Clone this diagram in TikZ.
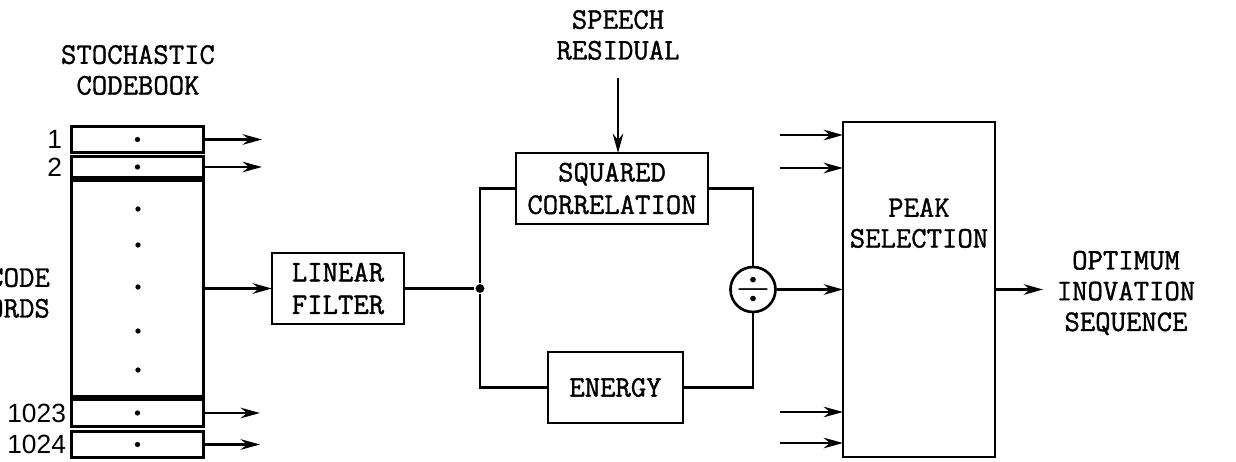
\documentclass[tikz,border=0pt]{standalone}
\usepackage{fontspec}
\setmainfont{Liberation Sans}
\setmonofont{Latin Modern Mono}[AutoFakeBold=1.2]
\usetikzlibrary{arrows.meta,positioning,calc}

\begin{document}
\begin{tikzpicture}[
    x=0.02cm, y=-0.02cm,
    line width=1.5pt,
    box/.style={rectangle, draw, inner sep=0pt, outer sep=0pt, align=center, font=\ttfamily\bfseries\fontsize{17}{18.5}\selectfont},
    row/.style={rectangle, draw, minimum width=2.65cm, inner sep=0pt, outer sep=0pt},
    lbl/.style={align=center, font=\ttfamily\bfseries\fontsize{17}{17.5}\selectfont},
    num/.style={anchor=east, inner sep=0pt, font=\fontsize{15}{17}\selectfont},
    arrow/.style={-{Stealth[length=11pt,width=6pt]}},
    pt/.style={circle, fill, inner sep=0pt, minimum size=3pt}
]
\useasboundingbox (0,0) rectangle (1236,462);

% codebook
\node[lbl] (cbtitle) at (138,70) {STOCHASTIC\\CODEBOOK};
\node[row, minimum height=0.53cm] (row1) at (137.5,139.5) {};
\node[row, minimum height=0.43cm] (row2) at (137.5,167) {};
\node[row, minimum height=4.33cm] (mid) at (137.5,288.5) {};
\node[row, minimum height=0.55cm] (row1023) at (137.5,413) {};
\node[row, minimum height=0.53cm] (row1024) at (137.5,444.5) {};
\foreach \r in {row1,row2,row1023,row1024}
  \node[pt] (dot\r) at (\r) {};
\foreach \y in {209,245,287,331,370}
  \node[pt] (dot\y) at (138,\y) {};

\node[num] (n1) at ([xshift=-0.16cm]row1.west) {1};
\node[num] (n2) at ([xshift=-0.16cm]row2.west) {2};
\node[num] (n1023) at ([xshift=-0.08cm]row1023.west) {1023};
\node[num] (n1024) at ([xshift=-0.08cm]row1024.west) {1024};
\node[lbl, anchor=east, align=right] (words) at (57,293) {CODE\\WORDS};

\coordinate (o1) at (262,139);
\coordinate (o2) at (262,167);
\coordinate (o1023) at (260,413);
\coordinate (o1024) at (260,445);
\draw[arrow] (row1.east) -- (row1.east -| o1);
\draw[arrow] (row2.east) -- (row2.east -| o2);
\draw[arrow] (row1023.east) -- (row1023.east -| o1023);
\draw[arrow] (row1024.east) -- (row1024.east -| o1024);

% filter and the two branches
\node[box, minimum width=2.64cm, minimum height=1.42cm] (filt) at (338,288.5) {LINEAR\\FILTER};
\draw[arrow] (mid.east) -- (filt.west);
\node[box, minimum width=3.84cm, minimum height=1.42cm] (sq) at (612,188.5) {SQUARED\\CORRELATION};
\node[box, minimum width=2.7cm, minimum height=1.42cm] (en) at (615.5,387.5) {ENERGY};
\node[pt, minimum size=5pt] (jn) at (480,288.5) {};
\draw (filt.east) -- (jn);
\draw (jn) |- (sq.west);
\draw (jn) |- (en.west);

\node[lbl] (resid) at (618,35) {SPEECH\\RESIDUAL};
\coordinate (rtop) at (618,78);
\draw[arrow] (rtop) -- (rtop |- sq.north);

% divider
\node[circle, draw, minimum size=0.9cm, inner sep=0pt, font=\fontsize{24}{24}\selectfont] (div) at (753,289.5) {$\div$};
\draw (sq.east) -| (div.north);
\draw (en.east) -| (div.south);

% peak selection
\node[rectangle, draw, outer sep=0pt, minimum width=3.04cm, minimum height=6.7cm] (peak) at (919,289.5) {};
\node[lbl] (peaktxt) at (919,223) {PEAK\\SELECTION};
\draw[arrow] (div.east) -- (div.east -| peak.west);
\foreach \y [count=\i] in {135,168,412,443} {
  \coordinate (in\i) at (780,\y);
  \draw[arrow] (in\i) -- (in\i -| peak.west);
}

\coordinate (outend) at (1043,289.5);
\draw[arrow] (peak.east) -- (outend);
\node[lbl] (opt) at (1126,293) {OPTIMUM\\INOVATION\\SEQUENCE};
\end{tikzpicture}
\end{document}
